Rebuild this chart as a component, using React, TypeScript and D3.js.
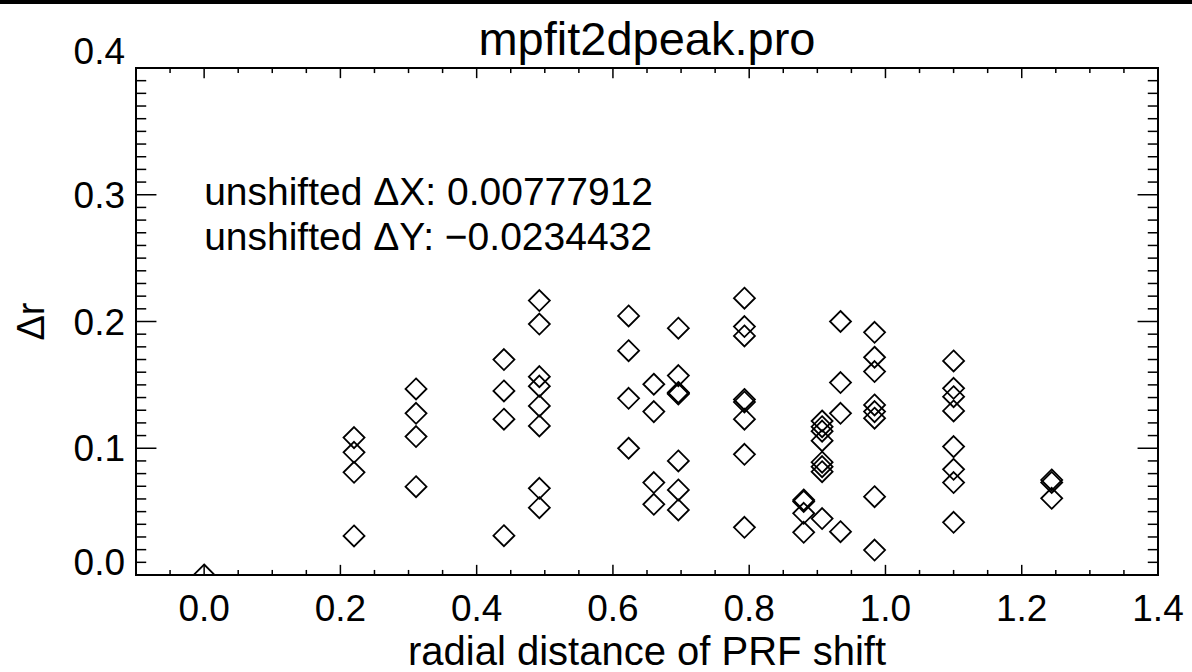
import React from "react";
import * as d3 from "d3";

const titleText = "mpfit2dpeak.pro";
const xLabel = "radial distance of PRF shift";
const yLabel = "\u0394r";
const notes = ["unshifted \u0394X: 0.00777912", "unshifted \u0394Y: \u22120.0234432"];

const radialShift = [0.0, 0.22, 0.311, 0.44, 0.492, 0.623, 0.66, 0.696, 0.793, 0.88, 0.907, 0.934, 0.984, 1.1, 1.244];
const deltaR = [
  [0.0],
  [0.1084, 0.0968, 0.081, 0.0308],
  [0.1468, 0.1276, 0.1092, 0.0697],
  [0.17, 0.1452, 0.1229, 0.031],
  [0.2165, 0.198, 0.1565, 0.149, 0.1334, 0.1176, 0.0684, 0.0531],
  [0.2044, 0.177, 0.1394, 0.1],
  [0.1505, 0.1289, 0.0729, 0.0558],
  [0.1947, 0.1573, 0.144, 0.1434, 0.1428, 0.09, 0.0671, 0.0513],
  [0.2184, 0.196, 0.1886, 0.1385, 0.1365, 0.1229, 0.0952, 0.0376],
  [0.0592, 0.058, 0.0487, 0.0337],
  [0.1215, 0.117, 0.1135, 0.106, 0.089, 0.0855, 0.0815, 0.0445],
  [0.2, 0.1518, 0.1276, 0.0342],
  [0.1915, 0.1718, 0.1605, 0.1342, 0.1289, 0.1237, 0.0618, 0.0197],
  [0.1689, 0.1473, 0.1407, 0.1294, 0.1013, 0.0834, 0.0729, 0.0416],
  [0.075, 0.073, 0.0605],
];
const xTicks = [0.0, 0.2, 0.4, 0.6, 0.8, 1.0, 1.2, 1.4];
const yTicks = [0.0, 0.1, 0.2, 0.3, 0.4];

const W = 1192, H = 672;
const L = 136, R = 1158, T = 68, B = 575;
const FONT = "'Liberation Sans', Arial, Helvetica, sans-serif";

export default function App() {
  const x = d3.scaleLinear().domain([-0.1, 1.4]).range([L, R]);
  const y = d3.scaleLinear().domain([0, 0.4]).range([B, T]);
  const pts: [number, number][] = [];
  radialShift.forEach((r, i) => deltaR[i].forEach((v) => pts.push([r, v])));
  const xMinor = d3.range(-0.1, 1.4001, 0.05);
  const yMinor = d3.range(0, 0.4001, 0.01);
  const plotW = R - L, plotH = B - T;
  const xMaj = plotH * 0.02, yMaj = plotW * 0.02;
  const isMajX = (v: number) => Math.abs(v / 0.2 - Math.round(v / 0.2)) < 1e-6;
  const isMajY = (v: number) => Math.abs(v / 0.1 - Math.round(v / 0.1)) < 1e-6;
  const ds = 10.5;
  const diamond = (cx: number, cy: number) =>
    `M${cx},${cy - ds}L${cx + ds},${cy}L${cx},${cy + ds}L${cx - ds},${cy}Z`;
  const yLabelY = (v: number) => {
    if (v === 0) return y(v);
    if (v === 0.4) return y(v) - 4;
    return y(v) + 13;
  };
  return (
    <svg width={W} height={H} style={{ position: "absolute", left: 0, top: 0, background: "#fff" }} fontFamily={FONT}>
      <rect x={0} y={0} width={W} height={H} fill="#fff" />
      <rect x={0} y={0} width={W} height={4} fill="#000" />
      <defs>
        <clipPath id="plotclip">
          <rect x={L} y={T} width={plotW} height={plotH} />
        </clipPath>
      </defs>
      <text x={(L + R) / 2} y={55} fontSize={47} textAnchor="middle">{titleText}</text>
      <rect x={L} y={T} width={plotW} height={plotH} fill="none" stroke="#000" strokeWidth={2} />
      {xMinor.map((v, i) => {
        const len = isMajX(v) ? xMaj : xMaj / 2;
        const px = x(v);
        return (
          <g key={"xt" + i}>
            <line x1={px} x2={px} y1={B} y2={B - len} stroke="#000" strokeWidth={1.5} />
            <line x1={px} x2={px} y1={T} y2={T + len} stroke="#000" strokeWidth={1.5} />
          </g>
        );
      })}
      {yMinor.map((v, i) => {
        const len = isMajY(v) ? yMaj : yMaj / 2;
        const py = y(v);
        return (
          <g key={"yt" + i}>
            <line x1={L} x2={L + len} y1={py} y2={py} stroke="#000" strokeWidth={1.5} />
            <line x1={R} x2={R - len} y1={py} y2={py} stroke="#000" strokeWidth={1.5} />
          </g>
        );
      })}
      {xTicks.map((v) => (
        <text key={"xl" + v} x={x(v)} y={621} fontSize={37} textAnchor="middle">{v.toFixed(1)}</text>
      ))}
      {yTicks.map((v) => (
        <text key={"yl" + v} x={125} y={yLabelY(v)} fontSize={37} textAnchor="end">{v.toFixed(1)}</text>
      ))}
      <text x={(L + R) / 2} y={665} fontSize={40} textAnchor="middle">{xLabel}</text>
      <text transform={`translate(44,${(T + B) / 2}) rotate(-90)`} fontSize={38} textAnchor="middle">{yLabel}</text>
      {notes.map((n, i) => (
        <text key={"n" + i} x={x(0)} y={205 + i * 45} fontSize={39}>{n}</text>
      ))}
      <g clipPath="url(#plotclip)">
        {pts.map(([r, v], i) => (
          <path key={"p" + i} d={diamond(x(r), y(v))} fill="none" stroke="#000" strokeWidth={1.8} />
        ))}
      </g>
    </svg>
  );
}
